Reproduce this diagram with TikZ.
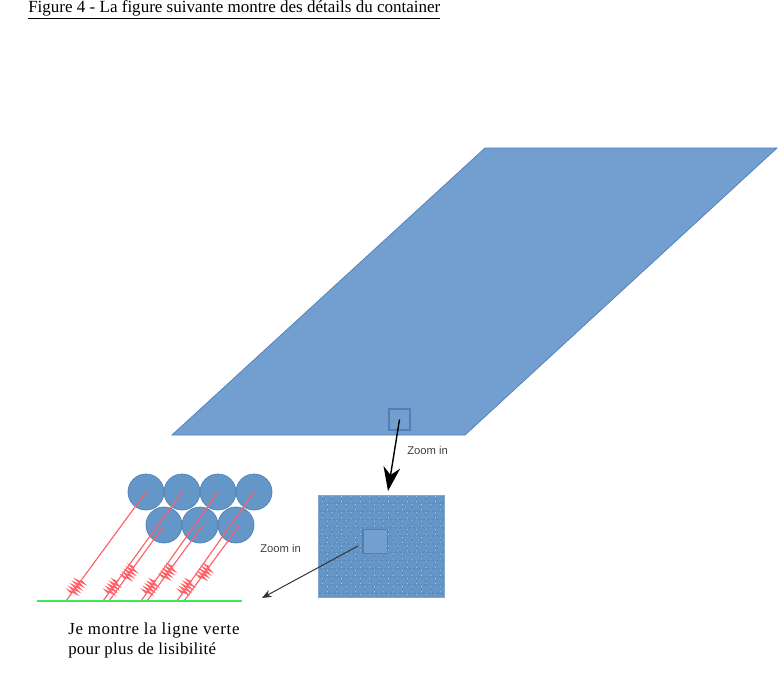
\documentclass[tikz,border=0pt]{standalone}
\usepackage{fontspec}
\setmainfont{Liberation Serif}
\setsansfont{Liberation Sans}
\newfontfamily\notewide[LetterSpace=4]{Liberation Serif}
\newfontfamily\notetight[LetterSpace=1.5]{Liberation Serif}
\usetikzlibrary{calc}
\usetikzlibrary{arrows.meta}
\usetikzlibrary{decorations.pathmorphing}
\definecolor{bluefill}{HTML}{729FCF}
\definecolor{blueedge}{HTML}{4F7FB5}
\definecolor{discfill}{HTML}{6596C8}
\definecolor{redline}{HTML}{FF5F68}
\definecolor{greenline}{HTML}{3CEB5A}
\tikzset{
  panel/.style={fill=bluefill,draw=blueedge,line width=0.5pt},
  frame/.style={rectangle,fill=bluefill,draw=blueedge,line width=1pt,inner sep=0pt},
  disc/.style={circle,fill=discfill,draw=blueedge,line width=0.5pt,inner sep=0pt,minimum size=0.9cm},
  rod/.style={draw=redline,line width=0.8pt},
  spring/.style={draw=redline,line width=0.85pt,decorate,decoration={zigzag,segment length=2.3pt,amplitude=3.2pt}},
  label/.style={font=\sffamily\fontsize{8}{9}\selectfont,text=black!75,inner sep=0pt}
}
\begin{document}
\begin{tikzpicture}[x=0.025cm,y=-0.025cm]
  \path[use as bounding box,fill=white] (0,0) rectangle (780,673);

  \node[inner sep=0pt,anchor=west] (T) at (28,10) {\fontsize{12.1}{14}\selectfont\underline{Figure 4 - La figure suivante montre des détails du container}};

  \fill[panel] (172,435) -- (465,435) -- (777,148) -- (485,148) -- cycle;
  \node[frame,fill=none,minimum size=0.525cm] (S1) at (399.5,419.5) {};

  % zoomed patch
  \fill[white!60!bluefill] (318,495) rectangle (444,597);
  \begin{scope}
    \clip (318,495) rectangle (444,597);
    \foreach \r in {0,...,12} {
      \foreach \c in {0,...,13} {
        \filldraw[fill=discfill,draw=blueedge,line width=0.25pt] ({318 + 9.4*\c + 4.7*mod(\r,2)},{499 + 8.2*\r}) circle (4.95);
      }
    }
  \end{scope}
  \draw[blueedge!70,line width=0.4pt] (318,495) rectangle (444,597);
  \node[frame,minimum size=0.61cm] (S2) at (375,541.5) {};

  \coordinate (P1) at (388,491);
  \coordinate (P2) at (358,546);
  \coordinate (P3) at (262,598);
  \draw[-{Stealth[length=0.6cm,width=0.42cm]},line width=1pt] (S1.center) -- (P1);
  \draw[-{Stealth[length=0.24cm,width=0.19cm]},line width=0.7pt,black!80] (P2) -- (P3);
  \node[label,anchor=west] (L1) at (407,450) {Zoom in};
  \node[label,anchor=west] (L2) at (260,548) {Zoom in};

  \node[disc] (A1) at (146,492) {};
  \node[disc] (A2) at (182,492) {};
  \node[disc] (A3) at (218,492) {};
  \node[disc] (A4) at (254,492) {};
  \node[disc] (B1) at (164,525) {};
  \node[disc] (B2) at (200,525) {};
  \node[disc] (B3) at (236,525) {};

  \coordinate (G1) at (37,601);
  \coordinate (G2) at (242,601);
  \coordinate (F1) at (66,601);
  \coordinate (F2) at (103,601);
  \coordinate (F3) at (141,601);
  \coordinate (F4) at (177,601);
  \coordinate (F5) at (109,601);
  \coordinate (F6) at (147,601);
  \coordinate (F7) at (184,601);

  \draw[rod] (A1.center) -- (F1);
  \draw[rod] (A2.center) -- (F2);
  \draw[rod] (A3.center) -- (F3);
  \draw[rod] (A4.center) -- (F4);
  \draw[rod] (163,527) -- (F5);
  \draw[rod] (203,525) -- (F6);
  \draw[rod] (239,526) -- (F7);

  % springs sit on the rods
  \draw[spring] ($(F1)!0.07!(A1.center)$) -- ($(F1)!0.19!(A1.center)$);
  \draw[spring] ($(F2)!0.07!(A2.center)$) -- ($(F2)!0.19!(A2.center)$);
  \draw[spring] ($(F3)!0.07!(A3.center)$) -- ($(F3)!0.19!(A3.center)$);
  \draw[spring] ($(F4)!0.07!(A4.center)$) -- ($(F4)!0.19!(A4.center)$);
  \draw[spring] ($(F5)!0.30!(163,527)$) -- ($(F5)!0.46!(163,527)$);
  \draw[spring] ($(F6)!0.30!(203,525)$) -- ($(F6)!0.46!(203,525)$);
  \draw[spring] ($(F7)!0.30!(239,526)$) -- ($(F7)!0.46!(239,526)$);

  \draw[greenline,line width=1.5pt] (G1) -- (G2);

  \node[inner sep=0pt,anchor=west] (N1) at (68,630) {\fontsize{12}{14}\notewide Je montre la ligne verte};
  \node[inner sep=0pt,anchor=west] (N2) at (68,650) {\fontsize{12}{14}\notetight pour plus de lisibilité};
\end{tikzpicture}
\end{document}
